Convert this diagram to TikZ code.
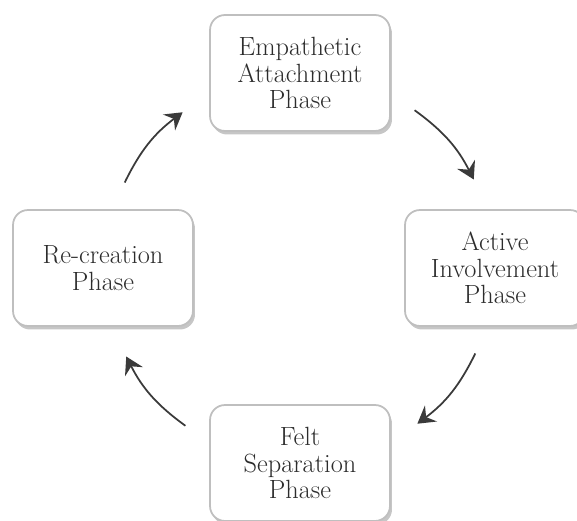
\documentclass[tikz,border=0pt]{standalone}
\usepackage{tikz}
\usetikzlibrary{arrows.meta, shadows, positioning}
\definecolor{txtgray}{HTML}{2C2C2C}
\definecolor{arrgray}{HTML}{3A3A3A}

\begin{document}
\begin{tikzpicture}[x=.02cm, y=.02cm,
    phase/.style={draw=gray!50, line width=1pt, fill=white, rounded corners=.3cm,
      minimum width=3.6cm, minimum height=2.32cm, align=center, text=txtgray,
      font=\fontsize{15}{15.2}\selectfont,
      drop shadow={shadow xshift=.4mm, shadow yshift=-.7mm, opacity=.45}},
    cyc/.style={arrgray, line width=1pt,
      -{Stealth[length=3.4mm, width=4mm, inset=1.2mm]}}]
      \useasboundingbox (-300,-252) rectangle (277,268);
      \coordinate (c) at (0,0);
      \node[phase] (emp) at (0,195) {Empathetic\\Attachment\\Phase};
      \node[phase] (act) at (195,0) {Active\\Involvement\\Phase};
      \node[phase] (felt) at (0,-195) {Felt\\Separation\\Phase};
      \node[phase] (recr) at (-197,0) {Re-creation\\Phase};
      % arrows run clockwise on a circle round c
      \foreach \a [count = \i] in {154, 54, -26, -126}{
        \coordinate (t\i) at (\a:195);
        \coordinate (h\i) at (\a-27:195);
        \draw[cyc] (t\i) to[bend left=13.5] (h\i);
        }
    \end{tikzpicture}
\end{document}
